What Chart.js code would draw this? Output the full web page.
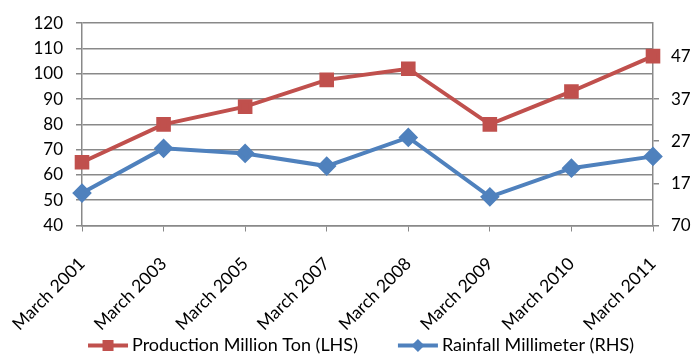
<!DOCTYPE html>
<html><head><meta charset="utf-8">
<script src="https://cdn.jsdelivr.net/npm/chart.js@4"></script>
<style>html,body{margin:0;padding:0;background:#fff;}#wrap{width:692px;height:354px;}</style>
</head><body><div id="wrap"><canvas id="c" width="692" height="354"></canvas></div>
<script>
const categories = ['March 2001','March 2003','March 2005','March 2007','March 2008','March 2009','March 2010','March 2011'];
const production = [65, 80, 87, 97.6, 102, 80, 93, 107];
const rainfall = [14.7, 25.3, 24.1, 21.1, 27.9, 13.8, 20.6, 23.4];
const leftTicks = [40, 50, 60, 70, 80, 90, 100, 110, 120];
const rightTicks = [7, 17, 27, 37, 47];
const rightTickLabels = ['70', '17', '27', '37', '47'];

const RED = '#C0504D', BLUE = '#4F81BD', GRID = '#898989';
const FONT = 'Lato, "Open Sans", sans-serif';

const legendPlugin = {
  id: 'lineLegend',
  afterDraw(chart) {
    const ctx = chart.ctx;
    const font = '18px ' + FONT;
    ctx.save();
    ctx.font = font;
    const items = chart.data.datasets.map(d => ({ d, w: ctx.measureText(d.label).width }));
    const iconW = 40, iconGap = 4, itemGap = 40;
    const total = items.reduce((a, it) => a + iconW + iconGap + it.w, 0) + itemGap * (items.length - 1);
    let x = 361 - total / 2;
    const y = 345.5;
    items.forEach(it => {
      const c = it.d.borderColor;
      ctx.strokeStyle = c; ctx.fillStyle = c; ctx.lineWidth = 4;
      ctx.beginPath(); ctx.moveTo(x, y); ctx.lineTo(x + iconW, y); ctx.stroke();
      const cx = x + iconW / 2;
      if (it.d.pointStyle === 'rect') { ctx.fillRect(cx - 5.5, y - 5.5, 11, 11); }
      else { ctx.beginPath(); ctx.moveTo(cx, y - 6.5); ctx.lineTo(cx + 6.5, y); ctx.lineTo(cx, y + 6.5); ctx.lineTo(cx - 6.5, y); ctx.closePath(); ctx.fill(); }
      x += iconW + iconGap;
      ctx.fillStyle = '#000'; ctx.textBaseline = 'middle'; ctx.textAlign = 'left';
      ctx.fillText(it.d.label, x, y);
      x += it.w + itemGap;
    });
    ctx.restore();
  }
};

new Chart(document.getElementById('c'), {
  type: 'line',
  data: {
    labels: categories,
    datasets: [
      { label: 'Production Million Ton (LHS)', data: production, yAxisID: 'y', borderColor: RED, backgroundColor: RED,
        borderWidth: 4, pointStyle: 'rect', pointRadius: 7.5, pointHoverRadius: 7.5, tension: 0 },
      { label: 'Rainfall Millimeter (RHS)', data: rainfall, yAxisID: 'y1', borderColor: BLUE, backgroundColor: BLUE,
        borderWidth: 4, pointStyle: 'rectRot', pointRadius: 7, pointHoverRadius: 7, tension: 0 }
    ]
  },
  plugins: [legendPlugin],
  options: {
    responsive: false, animation: false,
    layout: { padding: { top: 14, left: 0, right: 0, bottom: 0 } },
    plugins: { tooltip: { enabled: false }, legend: { display: false } },
    scales: {
      x: {
        offset: false,
        grid: { drawOnChartArea: false, drawTicks: true, tickLength: 6, color: GRID },
        border: { color: GRID, width: 1.5 },
        ticks: { maxRotation: 45, minRotation: 45, color: '#000', font: { family: FONT, size: 17.5 }, padding: 22 },
        afterFit(s) { s.height = 128.5; s.paddingLeft = 0; s.paddingRight = 0; }
      },
      y: {
        position: 'left', min: 40, max: 120,
        afterBuildTicks(s) { s.ticks = leftTicks.map(v => ({ value: v })); },
        grid: { color: GRID, lineWidth: 1.5, tickLength: 6 },
        border: { color: GRID, width: 1.5 },
        ticks: { color: '#000', font: { family: FONT, size: 17 }, padding: 13 },
        afterFit(s) { s.width = 82; }
      },
      y1: {
        position: 'right', min: 7, max: 55,
        afterBuildTicks(s) { s.ticks = rightTicks.map(v => ({ value: v })); },
        grid: { drawOnChartArea: false, color: GRID, lineWidth: 1.5, tickLength: 6 },
        border: { color: GRID, width: 1.5 },
        ticks: { color: '#000', font: { family: FONT, size: 17 }, padding: 12,
          callback(v) { const i = rightTicks.indexOf(v); return i >= 0 ? rightTickLabels[i] : ''; } },
        afterFit(s) { s.width = 39; }
      }
    }
  }
});
</script></body></html>
